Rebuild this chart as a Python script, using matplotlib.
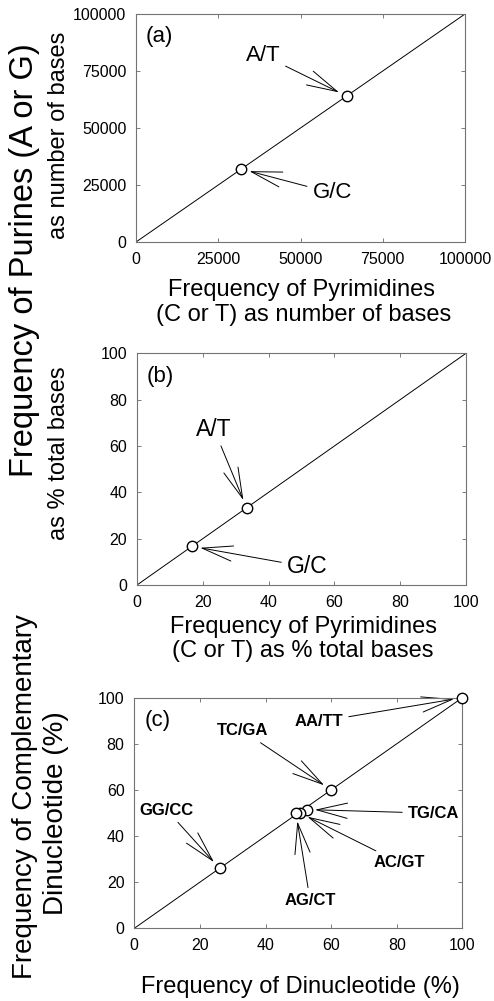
import matplotlib
matplotlib.use('Agg')
import matplotlib.pyplot as plt

plt.rcParams['font.family'] = ['Liberation Sans', 'DejaVu Sans']

# data

a_lim = 100000
a_ticks = [0, 25000, 50000, 75000, 100000]
a_names = ['A/T', 'G/C']
a_pyr = [64000, 32000]
a_pur = [64000, 32000]

b_lim = 100
b_ticks = [0, 20, 40, 60, 80, 100]
b_names = ['A/T', 'G/C']
b_pyr = [33.3, 16.7]
b_pur = [33.3, 16.7]

c_lim = 100
c_ticks = [0, 20, 40, 60, 80, 100]
c_names = ['AA/TT', 'TC/GA', 'TG/CA', 'AC/GT', 'AG/CT', 'GG/CC']
c_din = [100, 60, 52.5, 50.5, 49.3, 26]
c_comp = [100, 60, 51.5, 50, 50, 26]

# label positions (data units)
a_txt = [(38600, 82000), (59600, 21500)]
b_txt = [(23.4, 67.3), (51.7, 7.8)]
c_txt = [(56.3, 89.6), (33.1, 85.6), (91.2, 49.9), (80.7, 28.6), (53.6, 12.0), (9.9, 51.3)]

W, H = 494, 1001


def fx(px):
    return px / W


def fy(py):
    return 1 - py / H


fig = plt.figure(figsize=(W / 100, H / 100), dpi=100)

ax_a = fig.add_axes([fx(136), fy(242), 329 / W, 228 / H])
ax_b = fig.add_axes([fx(137), fy(585), 329 / W, 231.7 / H])
ax_c = fig.add_axes([fx(134.3), fy(928.3), 328 / W, 230.6 / H])

arrow = dict(arrowstyle='->,head_length=2.2,head_width=0.55', mutation_scale=10,
             color='k', lw=0.7, shrinkA=2, shrinkB=6)


def setup(ax, lim, ticks):
    ax.plot([0, lim], [0, lim], color='k', lw=0.7, zorder=1)
    ax.set_xlim(0, lim), ax.set_ylim(0, lim)
    ax.set_xticks(ticks), ax.set_yticks(ticks)
    ax.tick_params(direction='in', length=3, width=0.6, labelsize=11.5, pad=7,
                   top=True, right=True, color='0.4')
    for s in ax.spines.values():
        s.set_linewidth(0.8)
        s.set_color('0.45')


def points(ax, xs, ys, names, txt, size, weight):
    ax.plot(xs, ys, 'o', ms=7.5, mfc='white', mec='k', mew=1.0, zorder=3, clip_on=False)
    for x, y, n, t in zip(xs, ys, names, txt):
        ax.annotate(n, xy=(x, y), xytext=t, ha='center', va='center',
                    fontsize=size, fontweight=weight, arrowprops=arrow, zorder=2)


#
setup(ax_a, a_lim, a_ticks)
points(ax_a, a_pyr, a_pur, a_names, a_txt, 16, 'normal')
ax_a.text(0.03, 0.9, '(a)', transform=ax_a.transAxes, fontsize=16, va='center')
#
setup(ax_b, b_lim, b_ticks)
points(ax_b, b_pyr, b_pur, b_names, b_txt, 16.5, 'normal')
ax_b.text(0.03, 0.9, '(b)', transform=ax_b.transAxes, fontsize=16, va='center')
#
setup(ax_c, c_lim, c_ticks)
points(ax_c, c_din, c_comp, c_names, c_txt, 12, 'bold')
ax_c.text(0.03, 0.9, '(c)', transform=ax_c.transAxes, fontsize=16, va='center')

# axis titles
fig.text(fx(301), fy(290), 'Frequency of Pyrimidines', ha='center', va='center', fontsize=17)
fig.text(fx(304), fy(315), '(C or T) as number of bases', ha='center', va='center', fontsize=17)
fig.text(fx(303), fy(627), 'Frequency of Pyrimidines', ha='center', va='center', fontsize=17)
fig.text(fx(303), fy(651), '(C or T) as % total bases', ha='center', va='center', fontsize=17)
fig.text(fx(300), fy(987), 'Frequency of Dinucleotide (%)', ha='center', va='center', fontsize=17)

fig.text(fx(25), fy(260), 'Frequency of Purines (A or G)', rotation=90, ha='center', va='center', fontsize=23.5)
fig.text(fx(59), fy(135), 'as number of bases', rotation=90, ha='center', va='center', fontsize=17)
fig.text(fx(59), fy(453), 'as % total bases', rotation=90, ha='center', va='center', fontsize=17)
fig.text(fx(25), fy(797), 'Frequency of Complementary', rotation=90, ha='center', va='center', fontsize=20)
fig.text(fx(56), fy(813), 'Dinucleotide (%)', rotation=90, ha='center', va='center', fontsize=20)

plt.savefig('out.png', dpi=100)
